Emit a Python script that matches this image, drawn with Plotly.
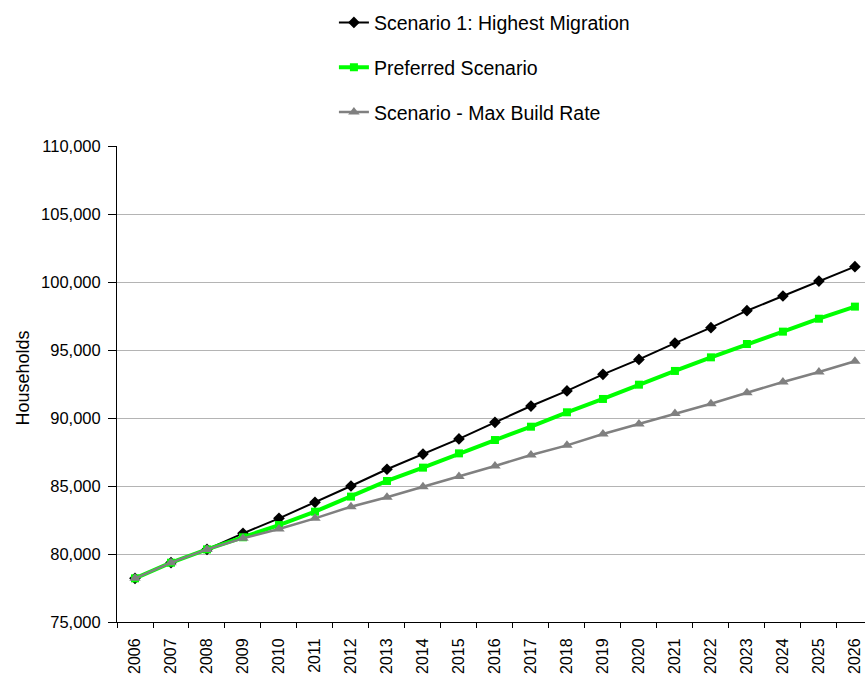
import plotly.graph_objects as go

# Household projections by scenario
years = list(range(2006, 2027))

highest_migration = [78210, 79360, 80340, 81520, 82620, 83800, 85000, 86230, 87350, 88460,
                     89680, 90880, 91990, 93210, 94310, 95510, 96640, 97890, 98970, 100070, 101130]
preferred = [78210, 79360, 80340, 81230, 82130, 83110, 84220, 85370, 86350, 87400,
             88380, 89360, 90420, 91400, 92450, 93460, 94460, 95440, 96350, 97300, 98190]
max_build_rate = [78210, 79360, 80340, 81150, 81840, 82620, 83480, 84170, 84950, 85690,
                  86470, 87280, 87990, 88820, 89560, 90340, 91050, 91860, 92650, 93380, 94170]

series_names = ["Scenario 1: Highest Migration", "Preferred Scenario", "Scenario - Max Build Rate"]
y_ticks = [75000, 80000, 85000, 90000, 95000, 100000, 105000, 110000]
y_title = "Households"

FONT = "Arial, Liberation Sans, sans-serif"

fig = go.Figure()
fig.add_trace(go.Scatter(
    x=years, y=highest_migration, name=series_names[0], mode="lines+markers",
    line=dict(color="#000000", width=2),
    marker=dict(symbol="diamond", size=9, color="#000000"),
    legendgroup="a",
))
fig.add_trace(go.Scatter(
    x=years, y=preferred, name=series_names[1], mode="lines+markers",
    line=dict(color="#00FF00", width=4),
    marker=dict(symbol="square", size=8, color="#00FF00"),
    legendgroup="b",
))
fig.add_trace(go.Scatter(
    x=years, y=max_build_rate, name=series_names[2], mode="lines+markers",
    line=dict(color="#808080", width=2.5),
    marker=dict(symbol="triangle-up", size=10, color="#808080"),
    legendgroup="c",
))

# vertical axis title, placed beside the tick labels
fig.add_annotation(
    text=y_title, textangle=-90,
    xref="paper", yref="paper", x=-0.126, y=0.513,
    xanchor="center", yanchor="middle", showarrow=False,
    font=dict(family=FONT, size=18, color="#000000"),
)

# tick marks sit between the years, labels on the years
year_boundaries = [y - 0.5 for y in years]

fig.update_layout(
    width=865, height=675,
    margin=dict(l=117, r=0, t=146, b=53),
    paper_bgcolor="white", plot_bgcolor="white",
    font=dict(family=FONT, color="#000000", size=16),
    showlegend=True,
    legend=dict(
        x=0.29, y=1.30, xanchor="left", yanchor="top",
        font=dict(family=FONT, size=19.5, color="#000000"),
        bgcolor="rgba(0,0,0,0)", tracegroupgap=16.5,
    ),
    xaxis=dict(
        range=[years[0] - 0.5, years[-1] + 0.28],
        tickvals=years, tickformat="d", tickangle=-90,
        ticks="outside", ticklen=9, tickcolor="rgba(0,0,0,0)",
        minor=dict(tickvals=year_boundaries, ticks="outside", ticklen=5,
                   tickcolor="#000000", showgrid=False),
        showline=True, linecolor="#000000", linewidth=1,
        showgrid=False, zeroline=False, automargin=False,
        tickfont=dict(family=FONT, size=16),
    ),
    yaxis=dict(
        range=[75000, 110000], tickvals=y_ticks, tickformat=",",
        ticks="outside", ticklen=8, tickcolor="#000000",
        showline=True, linecolor="#000000", linewidth=1,
        showgrid=True, gridcolor="#B4B4B4", gridwidth=1,
        zeroline=False, ticklabelstandoff=4, automargin=False,
        tickfont=dict(family=FONT, size=16.5),
    ),
)

fig.write_html("out.html")
